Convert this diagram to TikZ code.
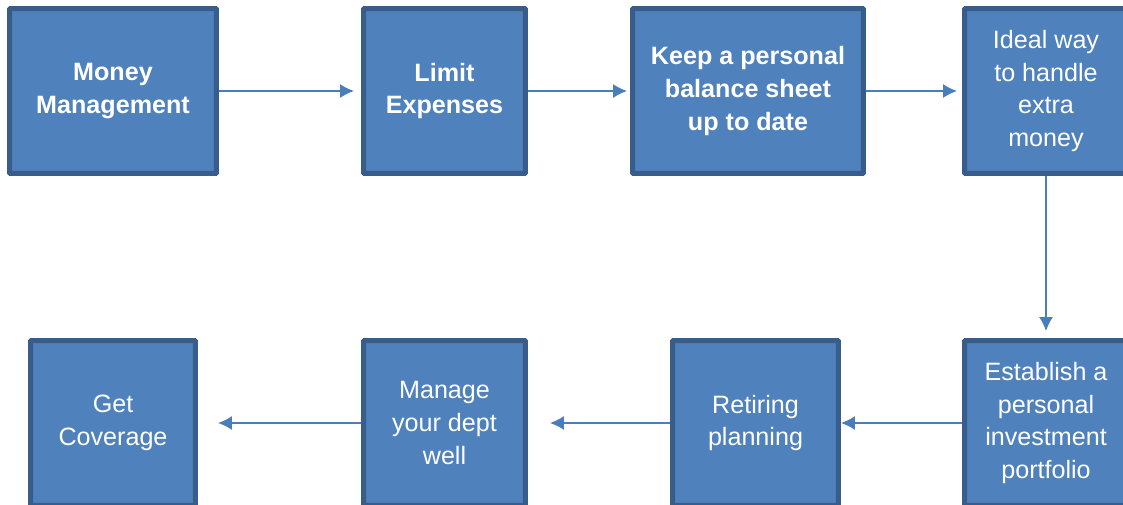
\documentclass[tikz,border=0pt]{standalone}
\usepackage{fontspec}
\setmainfont{Liberation Sans}
\usetikzlibrary{arrows.meta}
\definecolor{boxfill}{HTML}{4F81BD}
\definecolor{boxline}{HTML}{385D8A}
\definecolor{linkcol}{HTML}{4A7EBB}

\begin{document}
\begin{tikzpicture}[x=0.02cm,y=-0.02cm,
  box/.style={rectangle,draw=boxline,fill=boxfill,line width=0.1cm,rounded corners=0.5pt,
    text=white,align=center,minimum height=3.3cm,font=\fontsize{14.3pt}{18.7pt}\selectfont},
  boldbox/.style={box,font=\fontsize{14.3pt}{18.7pt}\selectfont\bfseries},
  link/.style={draw=linkcol,line width=0.85pt,-{Latex[length=0.28cm,width=0.28cm]}}]
\useasboundingbox (0,0) rectangle (1123,504);
\clip (0,0) rectangle (1123,504);

% top row
\node[boldbox,minimum width=4.14cm] (money) at (113,91) {Money\\Management};
\node[boldbox,minimum width=3.24cm] (limit) at (444.5,91) {Limit\\Expenses};
\node[boldbox,minimum width=4.62cm] (sheet) at (748,91) {Keep a personal\\balance sheet\\up to date};
\node[box,minimum width=3.26cm] (extra) at (1046,91) {Ideal way\\to handle\\extra\\money};

% bottom row
\node[box,minimum width=3.26cm] (invest) at (1046,423) {Establish a\\personal\\investment\\portfolio};
\node[box,minimum width=3.32cm] (retire) at (755.5,423) {Retiring\\planning};
\node[box,minimum width=3.24cm] (dept) at (444.5,423) {Manage\\your dept\\well};
\node[box,minimum width=3.30cm] (cover) at (113,423) {Get\\Coverage};

% connectors
\draw[link,shorten >=0.14cm] (money) -- (limit);
\draw[link,shorten >=0.06cm] (limit) -- (sheet);
\draw[link,shorten >=0.1cm] (sheet) -- (extra);
\draw[link,shorten >=0.14cm] (extra) -- (invest);
\draw[link] (invest) -- (retire);
\draw[link,shorten >=0.44cm] (retire) -- (dept);
\draw[link,shorten >=0.4cm] (dept) -- (cover);
\end{tikzpicture}
\end{document}
